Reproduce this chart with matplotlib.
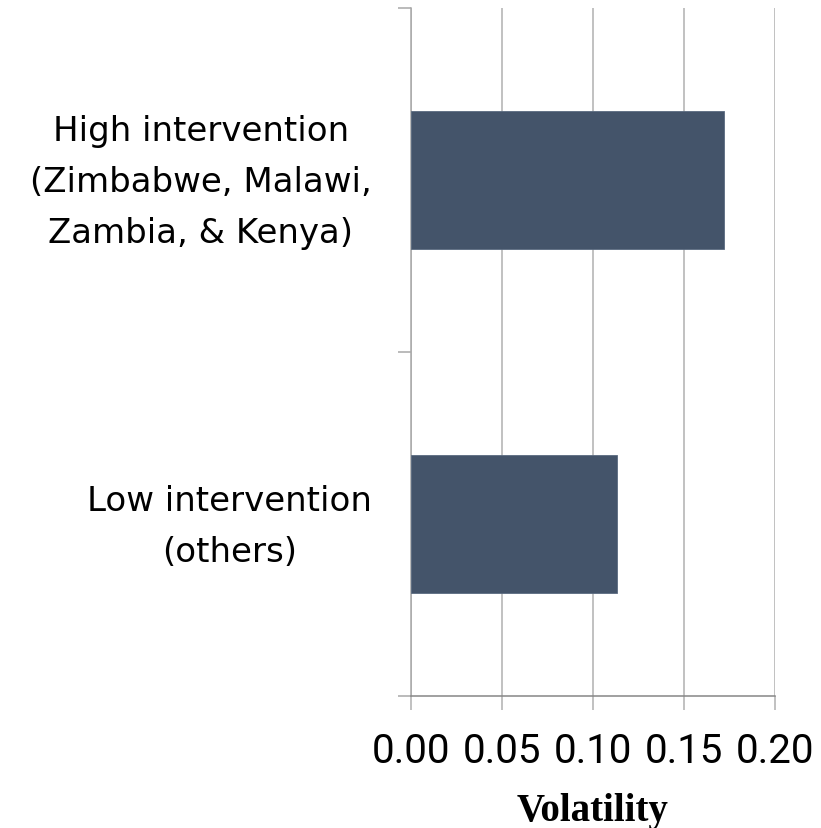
import matplotlib.pyplot as plt
import matplotlib.transforms as mtransforms
import numpy as np

# data
categories = ['Low intervention\n(others)',
              'High intervention\n(Zimbabwe, Malawi,\nZambia, & Kenya)']
volatility = [0.113, 0.172]
x_ticks = [0.00, 0.05, 0.10, 0.15, 0.20]
x_tick_labels = ['0.00', '0.05', '0.10', '0.15', '0.20']

fig = plt.figure(figsize=(8.21, 8.29), dpi=100)
ax = fig.add_axes([0.5002, 0.1592, 0.4441, 0.8299])

pos = np.arange(len(categories))
ax.barh(pos, volatility, height=0.4, color='#44546a', edgecolor='#5a6a80', linewidth=0.6, zorder=3)

ax.set_xlim(0, 0.2)
ax.set_ylim(-0.5, len(categories) - 0.5)

# gridlines
ax.set_xticks(x_ticks)
ax.set_xticklabels(x_tick_labels, family='Roboto', fontsize=29)
ax.grid(axis='x', color='#b0b0b0', linewidth=1.1, zorder=0)
ax.tick_params(axis='x', length=10, width=1.1, color='#b0b0b0', pad=15)

# y ticks at category boundaries, labels at centres
ax.set_yticks(np.arange(-0.5, len(categories)))
ax.set_yticklabels([])
ax.set_yticks(pos, minor=True)
ax.set_yticklabels(categories, minor=True, fontsize=24.5, multialignment='center', linespacing=1.7)
ax.tick_params(axis='y', which='major', length=9.5, width=1.1, color='#a8a8a8')
ax.tick_params(axis='y', which='minor', length=0, pad=28)
# labels sit a little above the bar centres
shift = mtransforms.ScaledTranslation(0, 0.11, fig.dpi_scale_trans)
for lab in ax.get_yticklabels(minor=True):
    lab.set_transform(lab.get_transform() + shift)

for s in ['top', 'right']:
    ax.spines[s].set_visible(False)
ax.spines['left'].set_color('#a8a8a8')
ax.spines['left'].set_linewidth(1.1)
ax.spines['bottom'].set_color('#868686')
ax.spines['bottom'].set_linewidth(1.1)

ax.set_xlabel('Volatility', family='Liberation Serif', fontweight='bold', fontsize=28, labelpad=16)

fig.savefig('out.png', dpi=100)
